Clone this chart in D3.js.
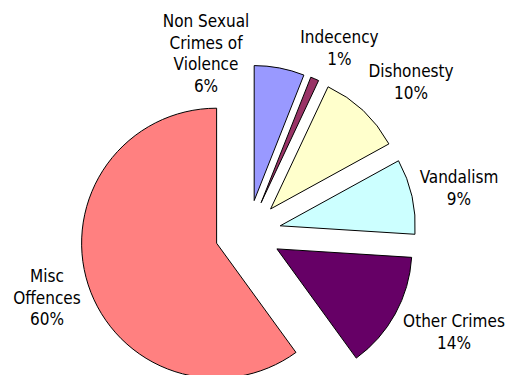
<!DOCTYPE html>
<html>
<head>
<meta charset="utf-8">
<script src="https://cdn.jsdelivr.net/npm/d3@7"></script>
<style>
  html, body { margin: 0; padding: 0; background: #fff; }
  svg text {
    font-family: "DejaVu Sans Condensed", "DejaVu Sans", Verdana, sans-serif;
    font-stretch: condensed;
    font-size: 17px;
    fill: #000;
  }
</style>
</head>
<body>
<svg id="chart" width="508" height="375"></svg>
<script>
// Offence categories, clockwise from 12 o'clock
const categories = ["Non Sexual Crimes of Violence", "Indecency", "Dishonesty", "Vandalism", "Other Crimes", "Misc Offences"];
// Share of offences, per cent
const shares = [6, 1, 10, 9, 14, 60];
// Excel-style fill palette for the slices
const colors = ["#9999FF", "#993366", "#FFFFCC", "#CCFFFF", "#660066", "#FF8080"];

// Label line breaks and placement (offset of the first baseline from the pie centre)
const labelLines = [
  ["Non Sexual", "Crimes of", "Violence"],
  ["Indecency"],
  ["Dishonesty"],
  ["Vandalism"],
  ["Other Crimes"],
  ["Misc", "Offences"]
];
const labelOffsets = [[-42, -206], [91.5, -190], [163, -156], [211, -50], [206, 94], [-201, 49]];

const width = 508, height = 375;
const cx = 248, cy = 233, radius = 135, explode = 33, lineH = 21.6;

const svg = d3.select("#chart");
const data = categories.map((c, i) => ({ name: c, value: shares[i], color: colors[i], lines: labelLines[i], off: labelOffsets[i] }));

const pie = d3.pie().sort(null).value(d => d.value).startAngle(0).endAngle(2 * Math.PI);
const arc = d3.arc().innerRadius(0).outerRadius(radius);
const total = d3.sum(shares);
const pct = d3.format(".0%");

const g = svg.append("g").attr("transform", `translate(${cx},${cy})`);

g.selectAll("path.slice")
  .data(pie(data))
  .join("path")
  .attr("class", "slice")
  .attr("d", arc)
  .attr("fill", d => d.data.color)
  .attr("stroke", "#000")
  .attr("stroke-width", 1)
  .attr("stroke-linejoin", "miter")
  .attr("transform", d => {
    const mid = (d.startAngle + d.endAngle) / 2;
    return `translate(${Math.sin(mid) * explode},${-Math.cos(mid) * explode})`;
  });

const labels = g.selectAll("text.label")
  .data(pie(data))
  .join("text")
  .attr("class", "label")
  .attr("text-anchor", "middle")
  .attr("x", d => d.data.off[0])
  .attr("y", d => d.data.off[1]);

labels.each(function (d) {
  const t = d3.select(this);
  const lines = d.data.lines.concat([pct(d.data.value / total)]);
  lines.forEach((s, i) => {
    t.append("tspan")
      .attr("x", d.data.off[0])
      .attr("y", d.data.off[1] + i * lineH)
      .text(s);
  });
});
</script>
</body>
</html>
